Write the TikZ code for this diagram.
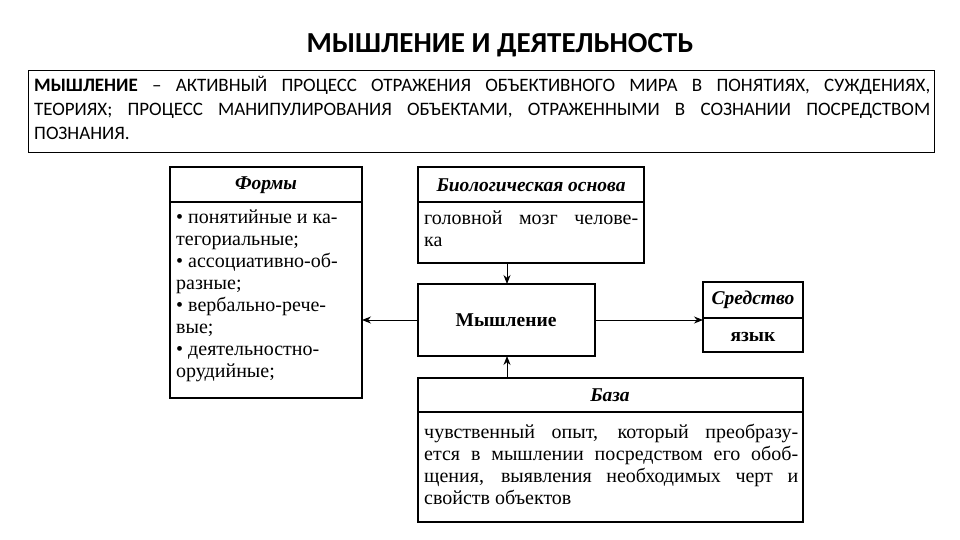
\documentclass[tikz,border=0pt]{standalone}
\usepackage{fontspec}
\setmainfont{Liberation Serif}
\newfontfamily\calib{Carlito}
\usetikzlibrary{arrows.meta}
\begin{document}
\begin{tikzpicture}[x=1pt,y=-1pt,
  box/.style={draw,line width=1.2pt},
  arr/.style={-{Stealth[length=9pt,width=7pt]},line width=0.9pt},
  txt/.style={font=\fontsize{20}{22}\selectfont,align=justify,anchor=north west,inner sep=0pt},
  hdr/.style={font=\fontsize{19.5}{22}\selectfont\bfseries\itshape,inner sep=0pt}]
\useasboundingbox (0,0) rectangle (960,540);
\node[font=\calib\fontsize{29}{32}\selectfont\bfseries] (title) at (500,45) {МЫШЛЕНИЕ И ДЕЯТЕЛЬНОСТЬ};
\draw[line width=0.8pt] (28,70) rectangle (934,152);
\node[anchor=north west,inner sep=0pt,text width=896pt,align=justify,font=\calib\fontsize{19}{24}\selectfont] (def) at (34,76)
{\textbf{МЫШЛЕНИЕ} – АКТИВНЫЙ ПРОЦЕСС ОТРАЖЕНИЯ ОБЪЕКТИВНОГО МИРА В ПОНЯТИЯХ, СУЖДЕНИЯХ,\linebreak ТЕОРИЯХ; ПРОЦЕСС МАНИПУЛИРОВАНИЯ ОБЪЕКТАМИ, ОТРАЖЕННЫМИ В СОЗНАНИИ ПОСРЕДСТВОМ\linebreak ПОЗНАНИЯ.\par};
% Formy
\draw[box] (170,167) rectangle (362,398); \draw[box] (170,202)--(362,202);
\node[hdr] (fh) at (266,185) {Формы};
\node[txt,align=left] (ft) at (176,210) {• понятийные и ка-\\тегориальные;\\• ассоциативно-об-\\разные;\\• вербально-рече-\\вые;\\• деятельностно-\\орудийные;};
% Bio
\draw[box] (418,167) rectangle (644,263); \draw[box] (418,202)--(644,202);
\node[hdr] (bh) at (531,185) {Биологическая основа};
\node[txt,text width=214pt] (bt) at (424,211) {головной мозг челове-\linebreak ка\par};
% Myshlenie
\draw[box] (418,284) rectangle (595,356);
\node[font=\fontsize{19.5}{22}\selectfont\bfseries] (m) at (506,320) {Мышление};
% Sredstvo
\draw[box] (703,282) rectangle (803,352); \draw[box] (703,318)--(803,318);
\node[hdr] (sh) at (753,300) {Средство};
\node[font=\fontsize{19.5}{22}\selectfont\bfseries] (st) at (753,337) {язык};
% Baza
\draw[box] (418,378) rectangle (803,522); \draw[box] (418,412)--(803,412);
\node[hdr] (zh) at (610,395) {База};
\node[txt,text width=374pt] (zt) at (424,424) {чувственный опыт, который преобразу-\linebreak ется в мышлении посредством его обоб-\linebreak щения, выявления необходимых черт и\linebreak свойств объектов\par};
% arrows
\coordinate (mL) at (418,320); \coordinate (fR) at (362,320);
\coordinate (mR) at (595,320); \coordinate (sL) at (703,320);
\coordinate (bB) at (507,263); \coordinate (mT) at (507,284);
\coordinate (zT) at (507,378); \coordinate (mB) at (507,356);
\draw[arr] (mL)--(fR);
\draw[arr] (mR)--(sL);
\draw[arr] (bB)--(mT);
\draw[arr] (zT)--(mB);
\end{tikzpicture}
\end{document}
